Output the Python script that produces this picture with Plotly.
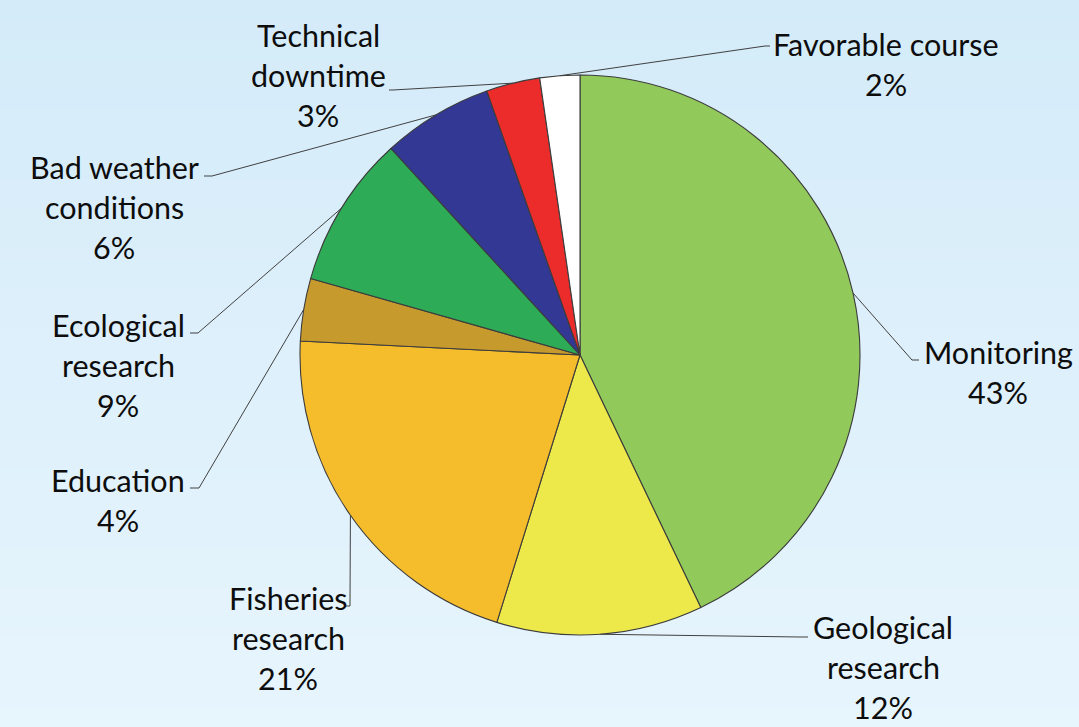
import plotly.graph_objects as go
import math

# ---- data ----
categories = ["Monitoring", "Geological research", "Fisheries research", "Education",
              "Ecological research", "Bad weather conditions", "Technical downtime",
              "Favorable course"]
values = [42.9, 11.9, 21.0, 3.6, 8.8, 6.4, 3.1, 2.3]
label_lines = [["Monitoring"], ["Geological", "research"], ["Fisheries", "research"],
               ["Education"], ["Ecological", "research"], ["Bad weather", "conditions"],
               ["Technical", "downtime"], ["Favorable course"]]
colors = ["#92c95b", "#ede94a", "#f5bc2b", "#c79a2e", "#2eab57", "#323894", "#ec2b2b", "#ffffff"]

# ---- layout constants (pixels) ----
W, H = 1079, 727
CX, CY, R = 580, 355, 280
# label block centre x, first-line centre y
label_pos = [(998, 352), (883, 627), (288, 598), (118, 480), (118, 325), (114, 167), (318, 35), (886, 44)]
# elbow point, end of the short horizontal tick
elbows = [((912, 360), (919, 360)), ((800, 637), (808, 637)), ((350, 606), (346, 606)),
          ((199, 488), (190, 488)), ((198, 333), (190, 333)), ((212, 176), (204, 176)),
          ((393, 90), (389, 90)), ((765, 46), (770, 46))]
LINE_H = 40
FONT = dict(family="Lato", size=30.5, color="#0d0d0d")

def px(x):
    return x / W

def py(y):
    return 1 - y / H

fig = go.Figure()
fig.add_trace(go.Pie(
    labels=categories, values=values, sort=False, direction="clockwise", rotation=0,
    marker=dict(colors=colors, line=dict(color="#3c3c3c", width=1.1)),
    textinfo="none", hoverinfo="label+percent", showlegend=False,
    domain=dict(x=[px(CX - R), px(CX + R)], y=[py(CY + R), py(CY - R)]),
))

# background gradient as thin bands
shapes = []
top = (0xd4, 0xeb, 0xf9)
bot = (0xe7, 0xf5, 0xfd)
n = 73
for i in range(n):
    t = i / (n - 1)
    c = tuple(round(top[k] + (bot[k] - top[k]) * t) for k in range(3))
    y0 = i * H / n
    y1 = min((i + 1) * H / n + 0.6, H)
    shapes.append(dict(type="rect", xref="paper", yref="paper", x0=0, x1=1,
                       y0=py(y1), y1=py(y0), fillcolor="rgb(%d,%d,%d)" % c,
                       line=dict(width=0), layer="below"))

total = sum(values)
cum = 0
annotations = []
for i, v in enumerate(values):
    mid = (cum + v / 2) / total * 2 * math.pi
    cum += v
    sx = CX + R * math.sin(mid)
    sy = CY - R * math.cos(mid)
    (ex, ey), (tx, ty) = elbows[i]
    path = "M %f %f L %f %f L %f %f" % (px(sx), py(sy), px(ex), py(ey), px(tx), py(ty))
    shapes.append(dict(type="path", xref="paper", yref="paper", path=path,
                       line=dict(color="#404040", width=1)))
    pct = round(v / total * 100)
    lines = label_lines[i] + ["%d%%" % pct]
    lx, ly = label_pos[i]
    for j, t in enumerate(lines):
        annotations.append(dict(x=px(lx), y=py(ly + j * LINE_H), xref="paper", yref="paper",
                                text=t, showarrow=False, xanchor="center", yanchor="middle",
                                font=FONT))

fig.update_layout(
    width=W, height=H, margin=dict(l=0, r=0, t=0, b=0),
    paper_bgcolor="#ddf0fb", plot_bgcolor="rgba(0,0,0,0)",
    shapes=shapes, annotations=annotations,
)
fig.write_html("out.html", config={"displayModeBar": False},
               post_script="document.body.style.margin='0';document.body.style.overflow='hidden';")
